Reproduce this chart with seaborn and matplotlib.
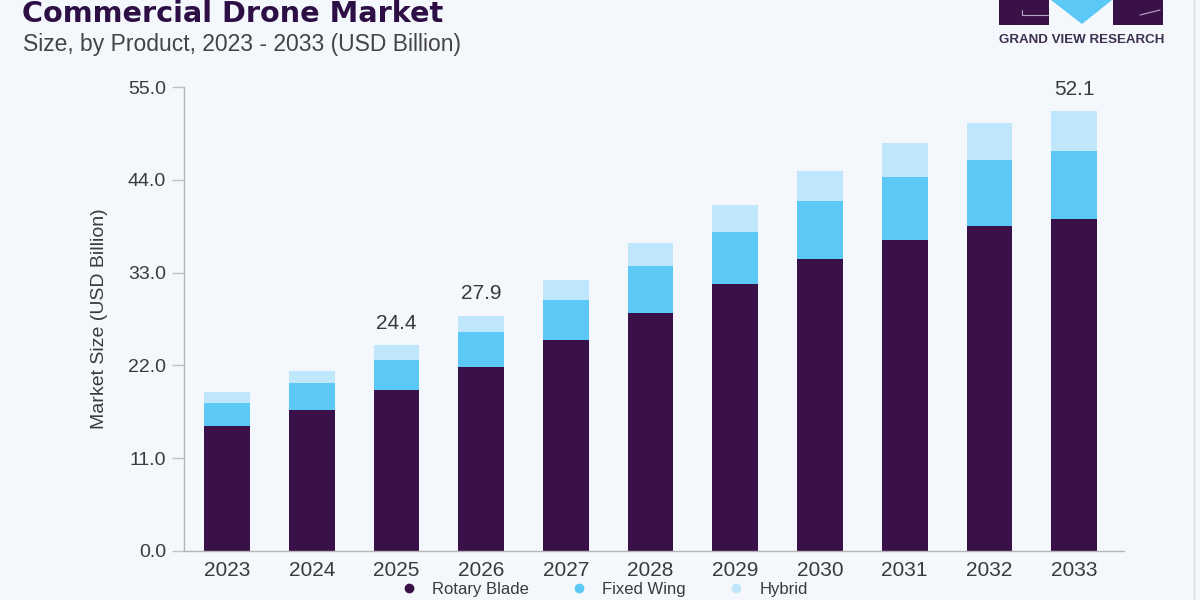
import numpy as np
import pandas as pd
import matplotlib
matplotlib.use("Agg")
import matplotlib.pyplot as plt
import seaborn as sns
from matplotlib.patches import Rectangle, Polygon
from matplotlib.lines import Line2D

years = ["2023", "2024", "2025", "2026", "2027", "2028", "2029", "2030", "2031", "2032", "2033"]
rotary_blade = [14.8, 16.75, 19.08, 21.83, 25.06, 28.24, 31.59, 34.56, 36.91, 38.5, 39.36]
fixed_wing = [2.8, 3.18, 3.57, 4.13, 4.66, 5.56, 6.17, 6.87, 7.41, 7.85, 8.08]
hybrid = [1.25, 1.43, 1.75, 1.94, 2.37, 2.76, 3.23, 3.67, 4.05, 4.35, 4.66]
series_names = ["Rotary Blade", "Fixed Wing", "Hybrid"]
labeled_years = ["2025", "2026", "2033"]
y_ticks = [0.0, 11.0, 22.0, 33.0, 44.0, 55.0]

BG = "#F4F8FC"
C_ROT = "#3A1048"
C_FIX = "#5BC8F5"
C_HYB = "#BFE6FA"
TXT = "#3a3a3a"

sns.set_theme(style="white")
plt.rcParams["font.family"] = ["Liberation Sans", "DejaVu Sans"]

df = pd.DataFrame({"year": years, "rot": rotary_blade, "fix": fixed_wing, "hyb": hybrid})
df["lvl2"] = df["rot"] + df["fix"]
df["total"] = df["lvl2"] + df["hyb"]

fig = plt.figure(figsize=(12, 6), dpi=100, facecolor=BG)
ax = fig.add_axes([0.1533, 0.0817, 0.7834, 0.7733])
ax.set_facecolor(BG)

w = 0.54
for col, c in (("total", C_HYB), ("lvl2", C_FIX), ("rot", C_ROT)):
    sns.barplot(data=df, x="year", y=col, color=c, width=w, saturation=1, ax=ax,
                order=years, linewidth=0, edgecolor="none")

ax.set_xlim(-0.51, 10.59)
ax.set_ylim(0, 55)
ax.set_yticks(y_ticks)
ax.set_yticklabels([f"{v:.1f}" for v in y_ticks])
ax.set_xlabel("")
ax.set_ylabel("Market Size (USD Billion)", fontsize=14, color=TXT, labelpad=14)

for s in ["top", "right"]:
    ax.spines[s].set_visible(False)
for s in ["left", "bottom"]:
    ax.spines[s].set_color("#b5b5b5")
    ax.spines[s].set_linewidth(1.0)
ax.tick_params(axis="y", which="both", left=True, length=9, width=1, color="#c0c0c0",
               labelsize=14, labelcolor=TXT, pad=4)
ax.tick_params(axis="x", bottom=False, labelsize=15, labelcolor=TXT, pad=1)

for i, yr in enumerate(years):
    if yr in labeled_years:
        t = df.loc[i, "total"]
        ax.annotate(f"{t:.1f}", (i, t), xytext=(0, 9), textcoords="offset points",
                    ha="center", va="bottom", fontsize=15, color=TXT)

# Title / subtitle
fig.text(0.018, 0.963, "Commercial Drone Market", fontsize=20.7, fontweight="heavy",
         color="#2E0F45", ha="left", va="baseline", family=["DejaVu Sans"])
fig.text(0.019, 0.915, "Size, by Product, 2023 - 2033 (USD Billion)", fontsize=16.5,
         color="#444444", ha="left", va="baseline")

# Logo
def px(x, y):
    return (x / 1200, 1 - y / 600)

fig.patches.append(Rectangle(px(999, 25), 50 / 1200, 25 / 600, transform=fig.transFigure,
                             facecolor="#3A1048", edgecolor="none"))
fig.patches.append(Rectangle(px(1113, 25), 50 / 1200, 25 / 600, transform=fig.transFigure,
                             facecolor="#3A1048", edgecolor="none"))
fig.patches.append(Polygon([px(1051, 0), px(1112, 0), px(1082, 24)], closed=True,
                           transform=fig.transFigure, facecolor="#5BC8F5", edgecolor="none"))
fig.lines.append(Line2D([1022 / 1200, 1022 / 1200, 1048 / 1200], [1 - 10 / 600, 1 - 15 / 600, 1 - 15 / 600],
                        transform=fig.transFigure, color="#b8a8c8", lw=0.8))
fig.lines.append(Line2D([1140 / 1200, 1160 / 1200], [1 - 15 / 600, 1 - 10 / 600],
                        transform=fig.transFigure, color="#b8a8c8", lw=0.8))
fig.text(1082 / 1200, 1 - 40 / 600, "GRAND VIEW RESEARCH", fontsize=9.6, fontweight="bold",
         color="#3d3050", ha="center", va="center")
fig.lines.append(Line2D([1194 / 1200, 1194 / 1200], [0, 1], transform=fig.transFigure,
                        color="#dddddd", lw=1))

# Legend at bottom
handles = [Line2D([], [], marker="o", ls="", color=c, markersize=6) for c in (C_ROT, C_FIX, C_HYB)]
fig.legend(handles, series_names, loc="center", bbox_to_anchor=(0.5, 0.017), ncol=3,
           frameon=False, fontsize=12, labelcolor=TXT, handletextpad=0.4, columnspacing=2.0,
           borderpad=0.1)

fig.savefig("out.png", dpi=100, facecolor=BG)
